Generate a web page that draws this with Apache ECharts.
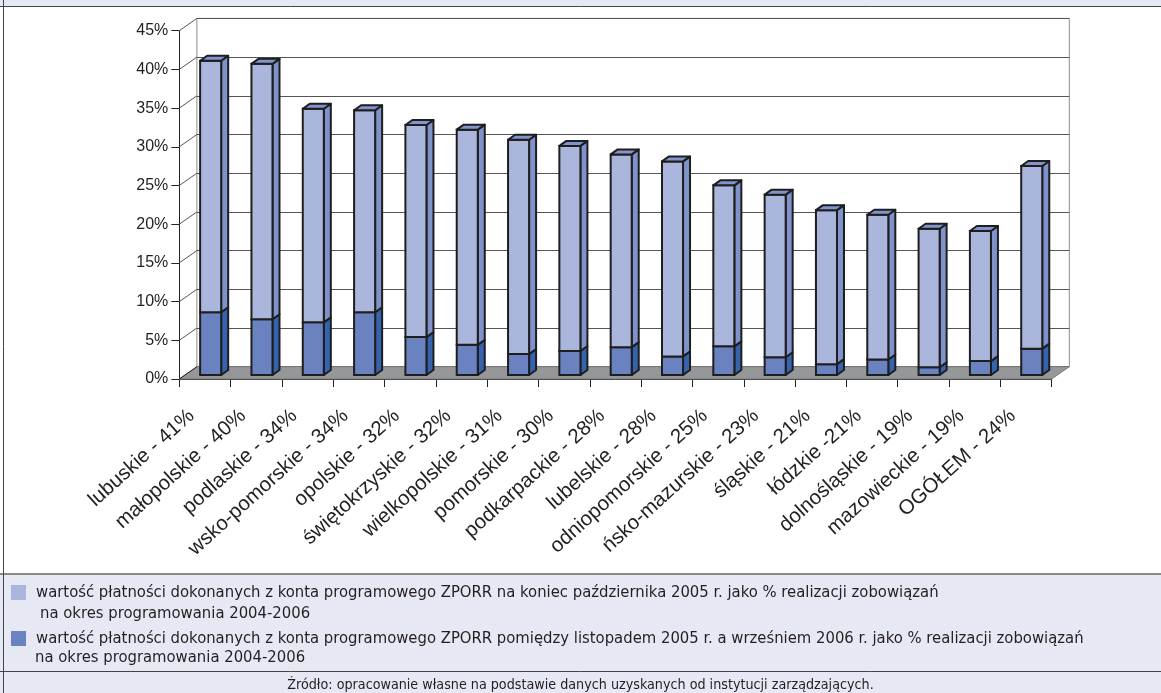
<!DOCTYPE html>
<html><head><meta charset="utf-8">
<script src="https://cdn.jsdelivr.net/npm/echarts@6/dist/echarts.min.js"></script>
<style>html,body{margin:0;padding:0;background:#fff;}#c{width:1161px;height:693px;}</style>
</head><body><div id="c"></div>
<script>
// ---- data ----
const categories = ["lubuskie - 41%", "małopolskie - 40%", "podlaskie - 34%", "wsko-pomorskie - 34%", "opolskie - 32%", "świętokrzyskie - 32%", "wielkopolskie - 31%", "pomorskie - 30%", "podkarpackie - 28%", "lubelskie - 28%", "odniopomorskie - 25%", "ńsko-mazurskie - 23%", "śląskie - 21%", "łódzkie -21%", "dolnośląskie - 19%", "mazowieckie - 19%", "OGÓŁEM - 24%"];
// dark (bottom) segment: Nov 2005 - Sep 2006
const darkValues = [8.1, 7.2, 6.8, 8.1, 4.9, 3.9, 2.7, 3.1, 3.6, 2.4, 3.7, 2.3, 1.4, 2.0, 1.0, 1.8, 3.4];
// light (top) segment: until end of Oct 2005
const lightValues = [32.5, 33.0, 27.6, 26.1, 27.4, 27.8, 27.7, 26.5, 24.9, 25.2, 20.8, 21.0, 19.9, 18.7, 17.9, 16.8, 23.6];
const yTicks = [0, 5, 10, 15, 20, 25, 30, 35, 40, 45];
const lightName = "wartość płatności dokonanych z konta programowego ZPORR na koniec października 2005 r. jako % realizacji zobowiązań";
const darkName = "wartość płatności dokonanych z konta programowego ZPORR pomiędzy listopadem 2005 r. a wrześniem 2006 r. jako % realizacji zobowiązań";
const continuationText = "na okres programowania 2004-2006";
const sourceText = "Źródło: opracowanie własne na podstawie danych uzyskanych od instytucji zarządzających.";

// ---- styling / geometry ----
const WDX = 17.6, WDY = -12.3;   // wall depth
const BDX = 5.7, BDY = -4;       // bar front-face offset into depth
const SDX = 7, SDY = -5;         // bar depth
const BAR_RATIO = 0.41;
const OUT = '#1e1e1e';
const LEG_FONT = '"DejaVu Sans Condensed", "DejaVu Sans", sans-serif';
const LAV = '#e6e8f4';

const chart = echarts.init(document.getElementById('c'), null, {renderer: 'canvas'});

function barRenderer(front, side, topC, drawTop) {
  return function (params, api) {
    const i = api.value(0), base = api.value(1), top = api.value(2);
    const pb = api.coord([i, base]), pt = api.coord([i, top]);
    const band = api.size([1, 0])[0];
    const w = band * BAR_RATIO;
    const x0 = pb[0] + BDX - w / 2, x1 = x0 + w;
    const yb = pb[1] + BDY, yt = pt[1] + BDY;
    const ch = [
      {type: 'polygon', shape: {points: [[x1, yb], [x1 + SDX, yb + SDY], [x1 + SDX, yt + SDY], [x1, yt]]},
        style: {fill: side, stroke: OUT, lineWidth: 2, lineJoin: 'round'}},
      {type: 'rect', shape: {x: x0, y: yt, width: w, height: yb - yt},
        style: {fill: front, stroke: OUT, lineWidth: 2}}
    ];
    if (drawTop) ch.push({type: 'polygon', shape: {points: [[x0, yt], [x0 + SDX, yt + SDY], [x1 + SDX, yt + SDY], [x1, yt]]},
      style: {fill: topC, stroke: OUT, lineWidth: 2, lineJoin: 'round'}});
    return {type: 'group', children: ch};
  };
}

const N = categories.length;
const darkData = categories.map((c, i) => [i, 0, darkValues[i]]);
const lightData = categories.map((c, i) => [i, darkValues[i], darkValues[i] + lightValues[i]]);

const option = {
  animation: false,
  backgroundColor: '#ffffff',
  grid: [
    {left: 179.3, right: 109.3, top: 30.7, bottom: 314, show: false},
    {left: 196.9, right: 91.7, top: 18.4, bottom: 326.3, show: true, borderColor: '#8c8c8c', borderWidth: 1, backgroundColor: 'transparent'}
  ],
  xAxis: [
    {type: 'category', gridIndex: 0, data: categories, boundaryGap: true,
      axisLine: {show: true, lineStyle: {color: '#222', width: 1}},
      axisTick: {show: true, length: 8, lineStyle: {color: '#222'}},
      axisLabel: {interval: 0, rotate: 42, margin: 22, padding: [0, 18, 0, 0], fontSize: 20.5, fontFamily: '"Liberation Sans", Arial, sans-serif', color: '#231f20'}},
    {type: 'value', gridIndex: 1, show: false, min: 0, max: 1}
  ],
  yAxis: [
    {type: 'value', gridIndex: 0, min: 0, max: 45, interval: 5,
      axisLine: {show: true, lineStyle: {color: '#222', width: 1}},
      axisTick: {show: true, length: 8, lineStyle: {color: '#222'}},
      axisLabel: {formatter: '{value}%', margin: 11, fontSize: 16, fontFamily: '"Liberation Sans", Arial, sans-serif', color: '#231f20'},
      splitLine: {show: false}},
    {type: 'value', gridIndex: 1, min: 0, max: 45, interval: 5,
      axisLine: {show: false}, axisTick: {show: false}, axisLabel: {show: false},
      splitLine: {show: true, lineStyle: {color: '#555555', width: 1}}}
  ],
  legend: {
    data: [lightName, darkName], orient: 'vertical', left: 11, top: 580.5, padding: 0,
    itemWidth: 15, itemHeight: 15, itemGap: 22, selectedMode: false,
    textStyle: {fontSize: 16.5, fontFamily: LEG_FONT, color: '#231f20', lineHeight: 22, padding: [2, 0, 0, 5]},
    icon: 'rect'
  },
  series: [
    {type: 'custom', name: 'floor', xAxisIndex: 0, yAxisIndex: 0, z: 1, silent: true,
      data: [[0, 0]],
      renderItem: function (params, api) {
        const band = api.size([1, 0])[0];
        const p0 = api.coord([0, 0]), p1 = api.coord([N - 1, 0]);
        const l = p0[0] - band / 2, r = p1[0] + band / 2, y = p0[1];
        return {type: 'group', children: [
          {type: 'polygon', shape: {points: [[l, y], [r, y], [r + WDX, y + WDY], [l + WDX, y + WDY]]},
            style: {fill: '#969799', stroke: '#7a7a7a', lineWidth: 1}}
        ]};
      }},
    {type: 'custom', name: 'sidewall', xAxisIndex: 0, yAxisIndex: 0, z: 1, silent: true,
      data: yTicks.map(v => [0, v]),
      renderItem: function (params, api) {
        const band = api.size([1, 0])[0];
        const p = api.coord([0, api.value(1)]);
        const l = p[0] - band / 2;
        return {type: 'line', shape: {x1: l, y1: p[1], x2: l + WDX, y2: p[1] + WDY},
          style: {stroke: api.value(1) === 0 ? '#222' : '#555555', lineWidth: 1}};
      }},
    {type: 'custom', name: darkName, xAxisIndex: 0, yAxisIndex: 0, z: 3,
      itemStyle: {color: '#6a82c0'}, encode: {x: 0, y: [1, 2]},
      data: darkData, renderItem: barRenderer('#6a82c0', '#3663b0', '#5a74b8', false)},
    {type: 'custom', name: lightName, xAxisIndex: 0, yAxisIndex: 0, z: 4,
      itemStyle: {color: '#abb6dc'}, encode: {x: 0, y: [1, 2]},
      data: lightData, renderItem: barRenderer('#abb6dc', '#7f92cb', '#8194cd', true)}
  ],
  graphic: [
    {type: 'rect', z: -10, shape: {x: 0, y: 0, width: 1161, height: 6}, style: {fill: LAV}},
    {type: 'line', z: -9, shape: {x1: 0, y1: 6.5, x2: 1161, y2: 6.5}, style: {stroke: '#444', lineWidth: 1}},
    {type: 'rect', z: -10, shape: {x: 0, y: 574, width: 1161, height: 119}, style: {fill: LAV}},
    {type: 'line', z: -9, shape: {x1: 0, y1: 574, x2: 1161, y2: 574}, style: {stroke: '#8a8a8a', lineWidth: 2}},
    {type: 'line', z: -9, shape: {x1: 0, y1: 671.5, x2: 1161, y2: 671.5}, style: {stroke: '#444', lineWidth: 1}},
    {type: 'line', z: -9, shape: {x1: 3.5, y1: 0, x2: 3.5, y2: 693}, style: {stroke: '#444', lineWidth: 1}},
    {type: 'text', left: 40, top: 605, style: {text: continuationText, font: '16.5px ' + LEG_FONT, fill: '#231f20'}},
    {type: 'text', left: 35, top: 649, style: {text: continuationText, font: '16.5px ' + LEG_FONT, fill: '#231f20'}},
    {type: 'text', x: 580.5, y: 685, style: {text: sourceText, font: '14.2px ' + LEG_FONT, fill: '#231f20', textAlign: 'center', textVerticalAlign: 'middle'}}
  ]
};
chart.setOption(option);
</script>
</body></html>
